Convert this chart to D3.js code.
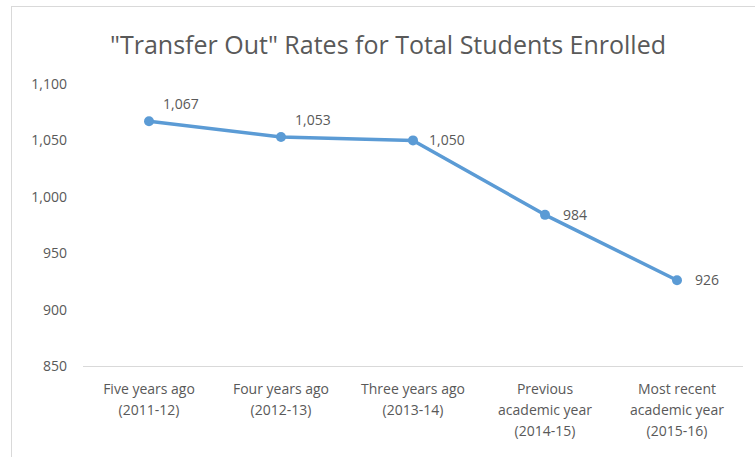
<!DOCTYPE html>
<html>
<head>
<meta charset="utf-8">
<script src="https://cdn.jsdelivr.net/npm/d3@7"></script>
<style>
  body { margin: 0; background: #fff; }
  text { font-family: "Liberation Sans Narrow", "Open Sans", sans-serif; fill: #595959; }
</style>
</head>
<body>
<div class="chart_area"></div>
<script>
var W = 755, H = 457;
var margin = {top: 84, right: 12, bottom: 90, left: 83},
    width = W - margin.left - margin.right,
    height = 366 - margin.top;

var data = [
  {cat: ["Five years ago", "(2011-12)"], value: 1067, dx: 14, dy: -17},
  {cat: ["Four years ago", "(2012-13)"], value: 1053, dx: 14, dy: -17},
  {cat: ["Three years ago", "(2013-14)"], value: 1050, dx: 16, dy: 0},
  {cat: ["Previous", "academic year", "(2014-15)"], value: 984, dx: 18, dy: 0},
  {cat: ["Most recent", "academic year", "(2015-16)"], value: 926, dx: 18, dy: 0}
];

var svg = d3.select(".chart_area")
  .append("svg")
  .attr("width", W)
  .attr("height", H);

// chart border
svg.append("rect")
  .attr("x", 11.5).attr("y", 6.5)
  .attr("width", W).attr("height", H)
  .attr("fill", "none")
  .attr("stroke", "#d9d9d9");

svg.append("text")
  .attr("x", 388).attr("y", 54)
  .attr("text-anchor", "middle")
  .style("font-size", "25px")
  .text("\"Transfer Out\" Rates for Total Students Enrolled");

var g = svg.append("g")
  .attr("transform", "translate(" + margin.left + "," + margin.top + ")");

var x = d3.scaleBand()
  .domain(data.map(function(d, i) { return i; }))
  .range([0, width]);

var y = d3.scaleLinear()
  .domain([850, 1100])
  .range([height, 0]);

// y axis (labels only)
var yAxis = g.append("g")
  .call(d3.axisLeft(y).tickValues(d3.range(850, 1101, 50)).tickSize(0).tickPadding(16).tickFormat(d3.format(",")));
yAxis.select(".domain").remove();
yAxis.selectAll("text").style("font-size", "14px").style("fill", "#595959")
  .style("font-family", "\"Liberation Sans Narrow\", \"Open Sans\", sans-serif");

// x axis line
g.append("line")
  .attr("x1", 0).attr("x2", width)
  .attr("y1", height + 0.5).attr("y2", height + 0.5)
  .attr("stroke", "#d9d9d9");

// category labels
var cats = g.selectAll(".cat")
  .data(data)
  .enter()
  .append("text")
    .attr("class", "cat")
    .attr("text-anchor", "middle")
    .attr("x", function(d, i) { return x(i) + x.bandwidth() / 2; })
    .attr("y", height + 28)
    .style("font-size", "14px");
cats.selectAll("tspan")
  .data(function(d) { return d.cat; })
  .enter()
  .append("tspan")
    .attr("x", function() { return d3.select(this.parentNode).attr("x"); })
    .attr("dy", function(d, i) { return i == 0 ? 0 : 21; })
    .text(function(d) { return d; });

var cx = function(d, i) { return x(i) + x.bandwidth() / 2; };

g.append("path")
  .datum(data)
  .attr("fill", "none")
  .attr("stroke", "#5b9bd5")
  .attr("stroke-width", 3.5)
  .attr("stroke-linejoin", "round")
  .attr("d", d3.line()
    .x(cx)
    .y(function(d) { return y(d.value); }));

g.selectAll("circle")
  .data(data)
  .enter()
  .append("circle")
    .attr("cx", cx)
    .attr("cy", function(d) { return y(d.value); })
    .attr("r", 5)
    .style("fill", "#5b9bd5");

g.selectAll(".lbl")
  .data(data)
  .enter()
  .append("text")
    .attr("class", "lbl")
    .attr("x", function(d, i) { return cx(d, i) + d.dx; })
    .attr("y", function(d) { return y(d.value) + d.dy + 5; })
    .style("font-size", "14px")
    .text(function(d) { return d3.format(",")(d.value); });
</script>
</body>
</html>
